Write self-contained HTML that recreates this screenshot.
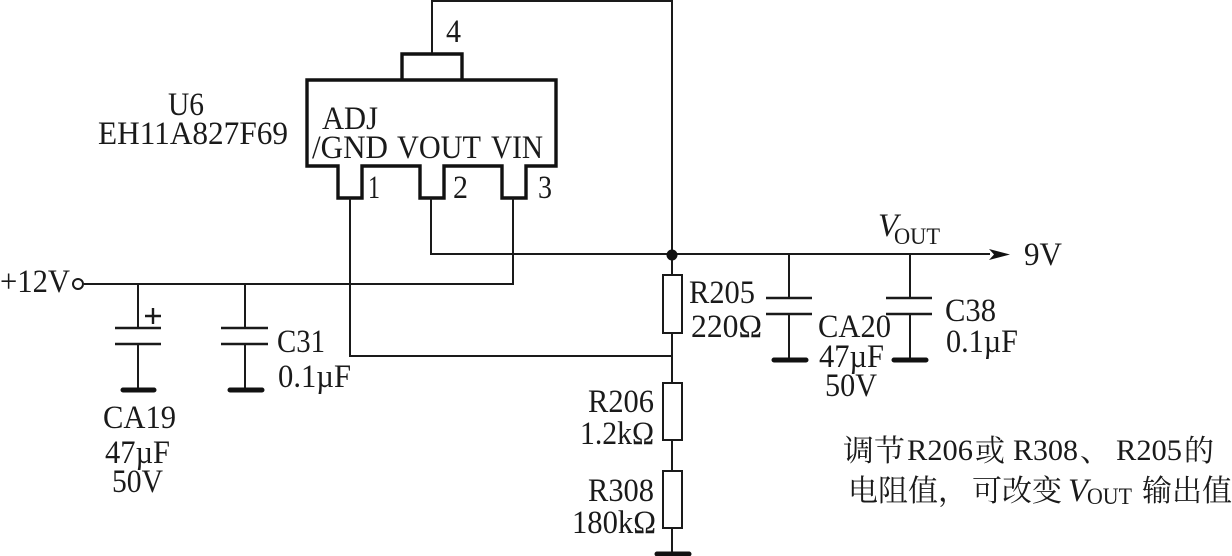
<!DOCTYPE html>
<html>
<head>
<meta charset="utf-8">
<style>
html,body{margin:0;padding:0;background:#fff;width:1232px;height:556px;overflow:hidden}
svg{display:block}
text{font-family:"Liberation Serif","Noto Serif CJK SC",serif;font-size:33px;fill:#1a1a1a}
.c{font-size:30px}
.w{fill:none;stroke:#1a1a1a;stroke-width:2}
.b{fill:none;stroke:#111;stroke-width:3.400}
.g{stroke:#111;stroke-width:5;stroke-linecap:round}
.p{stroke:#1a1a1a;stroke-width:2.400}
</style>
</head>
<body>
<svg width="1232" height="556" viewBox="0 0 1232 556" xmlns="http://www.w3.org/2000/svg">
<!-- IC -->
<path class="b" d="M402 80V54H462V80"/>
<path class="b" d="M307 80H556V166H526V198H502V166H444V198H420V166H362V198H338V166H307Z"/>
<!-- wires -->
<path class="w" d="M432 53V1H672V275M350 198V356H672M431 198V254H990M513 198V284H84"/>
<circle cx="78" cy="284" r="5" fill="#fff" stroke="#1a1a1a" stroke-width="2"/>
<circle cx="672" cy="255" r="5.500" fill="#111"/>
<path d="M989 249L1010 254.500L989 260L994 254.500Z" fill="#111"/>
<!-- resistors -->
<path class="w" d="M672 333V383M672 440V471M672 528V554"/>
<rect class="w" x="663" y="275" width="19" height="58"/>
<rect class="w" x="663" y="383" width="19" height="57"/>
<rect class="w" x="663" y="471" width="19" height="57"/>
<path class="g" d="M657 554H689"/>
<!-- caps left -->
<path class="w" d="M138 284V328M138 344V390M245 284V328M245 344V390"/>
<path class="p" d="M115 328H161M115 344H161M221 328H268M221 344H268"/>
<path class="g" d="M123 390H154M230 390H262"/>
<path class="p" d="M145 316H161M153 308V324"/>
<!-- caps right -->
<path class="w" d="M789 254V298M789 314V360M910 254V298M910 314V360"/>
<path class="p" d="M766 298H812M766 314H812M886 298H932M886 314H932"/>
<path class="g" d="M774 360H806M894 360H926"/>
<!-- labels -->
<text x="168" y="115" textLength="36" lengthAdjust="spacingAndGlyphs">U6</text>
<text x="98" y="144" textLength="190" lengthAdjust="spacingAndGlyphs">EH11A827F69</text>
<text x="322" y="129" textLength="56" lengthAdjust="spacingAndGlyphs">ADJ</text>
<text x="312" y="158" textLength="76" lengthAdjust="spacingAndGlyphs">/GND</text>
<text x="397" y="158" textLength="84" lengthAdjust="spacingAndGlyphs">VOUT</text>
<text x="491" y="158" textLength="52" lengthAdjust="spacingAndGlyphs">VIN</text>
<text x="446" y="42" textLength="15" lengthAdjust="spacingAndGlyphs">4</text>
<text x="368" y="198" textLength="12" lengthAdjust="spacingAndGlyphs">1</text>
<text x="453" y="198" textLength="15" lengthAdjust="spacingAndGlyphs">2</text>
<text x="538" y="198" textLength="14" lengthAdjust="spacingAndGlyphs">3</text>
<text x="0" y="292" textLength="70" lengthAdjust="spacingAndGlyphs">+12V</text>
<text x="277" y="352" textLength="48" lengthAdjust="spacingAndGlyphs">C31</text>
<text x="278" y="387" textLength="73" lengthAdjust="spacingAndGlyphs">0.1µF</text>
<text x="103" y="428" textLength="73" lengthAdjust="spacingAndGlyphs">CA19</text>
<text x="105" y="463" textLength="65" lengthAdjust="spacingAndGlyphs">47µF</text>
<text x="112" y="492" textLength="51" lengthAdjust="spacingAndGlyphs">50V</text>
<text x="689" y="303" textLength="66" lengthAdjust="spacingAndGlyphs">R205</text>
<text x="691" y="337" textLength="71" lengthAdjust="spacingAndGlyphs">220Ω</text>
<text x="818" y="337" textLength="73" lengthAdjust="spacingAndGlyphs">CA20</text>
<text x="819" y="367" textLength="65" lengthAdjust="spacingAndGlyphs">47µF</text>
<text x="825" y="396" textLength="52" lengthAdjust="spacingAndGlyphs">50V</text>
<text x="945" y="321" textLength="51" lengthAdjust="spacingAndGlyphs">C38</text>
<text x="946" y="352" textLength="72" lengthAdjust="spacingAndGlyphs">0.1µF</text>
<text x="878" y="236" font-style="italic" textLength="20" lengthAdjust="spacingAndGlyphs">V</text>
<text x="894" y="244" style="font-size:23px" textLength="46" lengthAdjust="spacingAndGlyphs">OUT</text>
<text x="1024" y="265" textLength="38" lengthAdjust="spacingAndGlyphs">9V</text>
<text x="588" y="412" textLength="66" lengthAdjust="spacingAndGlyphs">R206</text>
<text x="580" y="444" textLength="74" lengthAdjust="spacingAndGlyphs">1.2kΩ</text>
<text x="588" y="501" textLength="66" lengthAdjust="spacingAndGlyphs">R308</text>
<text x="572" y="533" textLength="84" lengthAdjust="spacingAndGlyphs">180kΩ</text>
<!-- note -->
<text class="c" x="843" y="461" textLength="62" lengthAdjust="spacingAndGlyphs">调节</text>
<text class="c" x="907" y="460" textLength="66" lengthAdjust="spacingAndGlyphs">R206</text>
<text class="c" x="975" y="461" textLength="30" lengthAdjust="spacingAndGlyphs">或</text>
<text class="c" x="1013" y="460" textLength="65" lengthAdjust="spacingAndGlyphs">R308</text>
<text class="c" x="1080" y="461" textLength="30" lengthAdjust="spacingAndGlyphs">、</text>
<text class="c" x="1116" y="460" textLength="66" lengthAdjust="spacingAndGlyphs">R205</text>
<text class="c" x="1184" y="461" textLength="30" lengthAdjust="spacingAndGlyphs">的</text>
<text class="c" x="848" y="501" textLength="120" lengthAdjust="spacingAndGlyphs">电阻值，</text>
<text class="c" x="972" y="501" textLength="90" lengthAdjust="spacingAndGlyphs">可改变</text>
<text x="1068" y="501" font-style="italic" textLength="20" lengthAdjust="spacingAndGlyphs">V</text>
<text x="1087" y="504" style="font-size:23px" textLength="45" lengthAdjust="spacingAndGlyphs">OUT</text>
<text class="c" x="1142" y="501" textLength="90" lengthAdjust="spacingAndGlyphs">输出值</text>
</svg>
</body>
</html>
